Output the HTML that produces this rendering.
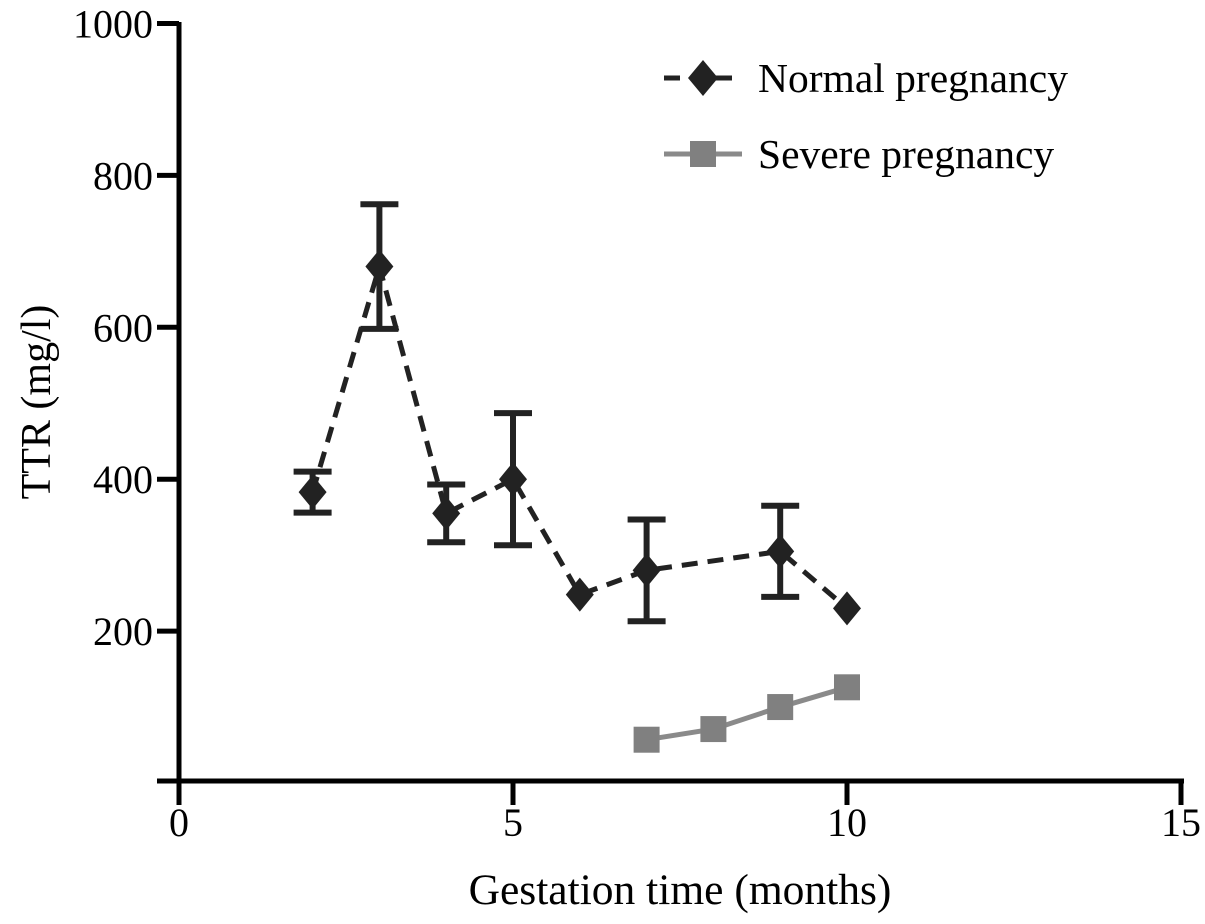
<!DOCTYPE html>
<html><head><meta charset="utf-8"><style>
body{margin:0;background:#fff}
text{font-family:"Liberation Serif",serif;fill:#000}
</style></head><body>
<svg id="c" width="1205" height="919" xmlns="http://www.w3.org/2000/svg"></svg>
<script>
const xTicks=[0,5,10,15];
const yTicks=[200,400,600,800,1000];
const normalX=[2,3,4,5,6,7,9,10];
const normalY=[383,680,355,400,248,280,305,230];
const normalErr=[27,82,38,87,0,67,60,0];
const severeX=[7,8,9,10];
const severeY=[57,71,100,126];
const NS='http://www.w3.org/2000/svg';
const svg=document.getElementById('c');
const sx=v=>179+v*66.8;
const sy=v=>783-v*0.7595;
function el(t,a,p){const e=document.createElementNS(NS,t);for(const k in a)e.setAttribute(k,a[k]);(p||svg).appendChild(e);return e;}
let a=el('line',{x1:179,y1:22,x2:179,y2:785,stroke:'#000','stroke-width':5});

a=el('line',{x1:157,y1:781,x2:1184,y2:781,stroke:'#000','stroke-width':5});

yTicks.forEach(v=>{
 const t=el('line',{x1:157,y1:sy(v),x2:179,y2:sy(v),stroke:'#000','stroke-width':5});
 
 const l=el('text',{x:153,y:sy(v)+14,'text-anchor':'end','font-size':40});l.textContent=v;
 
});
xTicks.forEach(v=>{
 const t=el('line',{x1:sx(v),y1:781,x2:sx(v),y2:805,stroke:'#000','stroke-width':5});
 
 const l=el('text',{x:sx(v),y:836,'text-anchor':'middle','font-size':40});l.textContent=v;
 
});
let t=el('text',{x:680,y:904,'text-anchor':'middle','font-size':43.5});t.textContent='Gestation time (months)';

t=el('text',{x:0,y:0,'text-anchor':'middle','font-size':42,transform:'translate(50,402) rotate(-90)'});t.textContent='TTR (mg/l)';

let pts=severeX.map((x,i)=>sx(x)+','+sy(severeY[i])).join(' ');
let p=el('polyline',{points:pts,fill:'none',stroke:'#8a8a8a','stroke-width':5});

severeX.forEach((x,i)=>{const r=el('rect',{x:sx(x)-13,y:sy(severeY[i])-13,width:26,height:26,fill:'#808080'});
 });
pts=normalX.map((x,i)=>sx(x)+','+sy(normalY[i])).join(' ');
p=el('polyline',{points:pts,fill:'none',stroke:'#222','stroke-width':5,'stroke-dasharray':'16,10'});

normalX.forEach((x,i)=>{
 const e=normalErr[i];
 if(e>0){const g=el('g',{stroke:'#222','stroke-width':6});
  
  el('line',{x1:sx(x),y1:sy(normalY[i]-e),x2:sx(x),y2:sy(normalY[i]+e)},g);
  el('line',{x1:sx(x)-19,y1:sy(normalY[i]-e),x2:sx(x)+19,y2:sy(normalY[i]-e)},g);
  el('line',{x1:sx(x)-19,y1:sy(normalY[i]+e),x2:sx(x)+19,y2:sy(normalY[i]+e)},g);}
 const cx=sx(x),cy=sy(normalY[i]);
 const d=el('polygon',{points:`${cx},${cy-17} ${cx+14},${cy} ${cx},${cy+17} ${cx-14},${cy}`,fill:'#222'});
 
});
const lg=el('g',{});
const l1=el('g',{},lg);
el('line',{x1:664,y1:78,x2:742,y2:78,stroke:'#222','stroke-width':5,'stroke-dasharray':'16,10'},l1);
el('polygon',{points:'703,60 718,78 703,96 688,78',fill:'#222'},l1);
t=el('text',{x:758,y:92,'font-size':41.5},l1);t.textContent='Normal pregnancy';
const l2=el('g',{},lg);
el('line',{x1:664,y1:154,x2:742,y2:154,stroke:'#8a8a8a','stroke-width':5},l2);
el('rect',{x:690,y:141,width:26,height:26,fill:'#808080'},l2);
t=el('text',{x:758,y:168,'font-size':41.5},l2);t.textContent='Severe pregnancy';
</script>
</body></html>
